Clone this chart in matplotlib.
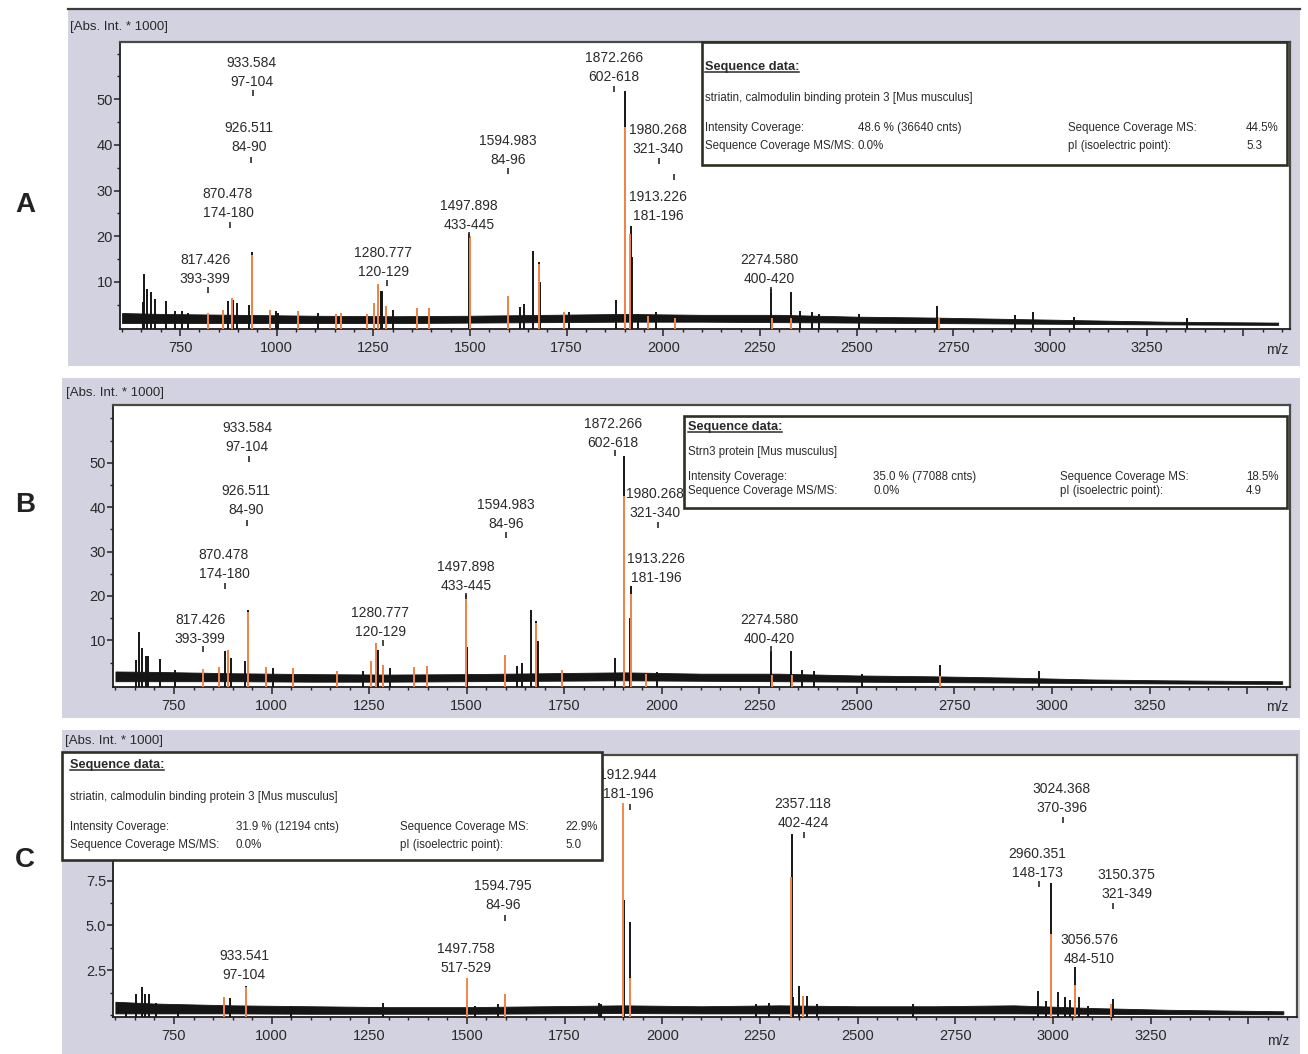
import matplotlib
matplotlib.use('Agg')
import matplotlib.pyplot as plt
import matplotlib.ticker as mticker
from matplotlib.patches import Rectangle
from matplotlib.lines import Line2D
import numpy as np

plt.rcParams['font.family'] = ['Liberation Sans', 'DejaVu Sans']

# ---------------- data ----------------
# noise band of the spectrum (m/z grid, upper and lower edge of the band)
base_mz = [600, 700, 900, 1100, 1300, 1500, 1700, 1900, 2100, 2300, 2500, 2700, 2900, 3100, 3300, 3590]
a_band_hi = [3.2, 3.0, 2.8, 2.6, 2.5, 2.6, 2.8, 3.0, 2.8, 2.8, 2.4, 2.2, 1.9, 1.6, 1.3, 1.1]
a_band_lo = [1.0, 1.0, 1.0, 1.0, 1.0, 1.1, 1.2, 1.3, 1.3, 1.2, 1.1, 1.0, 0.9, 0.8, 0.7, 0.6]
b_band_hi = [3.0, 2.9, 2.6, 2.4, 2.3, 2.4, 2.6, 2.8, 2.5, 2.5, 2.1, 1.9, 1.6, 1.2, 1.0, 0.8]
b_band_lo = [0.8, 0.8, 0.8, 0.7, 0.7, 0.8, 0.9, 1.0, 0.9, 0.8, 0.7, 0.6, 0.5, 0.4, 0.3, 0.2]
c_band_hi = [0.75, 0.65, 0.55, 0.5, 0.45, 0.45, 0.5, 0.55, 0.5, 0.55, 0.5, 0.5, 0.55, 0.4, 0.3, 0.22]
c_band_lo = [0.1, 0.1, 0.1, 0.08, 0.08, 0.08, 0.1, 0.12, 0.1, 0.1, 0.1, 0.1, 0.1, 0.08, 0.06, 0.05]

# panel A spectrum peaks
a_peak_mz = [653, 658, 665, 674, 685, 714, 737, 754, 771, 862, 875, 884, 888, 897, 929, 935,
             984, 998, 1004, 1054, 1108, 1153, 1166, 1233, 1252, 1263, 1269, 1272, 1284, 1302,
             1364, 1395, 1497, 1500, 1599, 1630, 1640, 1664, 1679, 1682, 1743, 1755, 1878,
             1900, 1916, 1919, 1935, 1982, 2030, 2278, 2329, 2354, 2384, 2402, 2506, 2707,
             2909, 2957, 3061, 3354]
a_peak_int = [5.6, 11.7, 8.5, 7.8, 6.3, 5.9, 3.7, 3.7, 3.3, 3.9, 5.9, 6.5, 6.0, 5.3, 5.0, 16.5,
              3.9, 3.7, 3.3, 3.7, 3.3, 3.0, 3.3, 3.0, 5.4, 9.6, 8.1, 8.1, 4.8, 3.9,
              4.2, 4.2, 20.5, 8.8, 7.0, 4.5, 5.2, 16.8, 14.4, 10.0, 3.5, 3.5, 6.1,
              51.7, 22.3, 15.5, 3.0, 3.5, 2.8, 8.5, 7.8, 3.7, 3.4, 3.0, 3.0, 4.8,
              2.8, 3.5, 2.4, 2.1]
# panel A matched peaks (orange)
a_match_mz = [822, 862, 884, 935, 984, 1054, 1153, 1166, 1233, 1252, 1263, 1284, 1364, 1395,
              1499, 1599, 1679, 1743, 1902, 1914, 1960, 2030, 2280, 2330, 2712]
a_match_int = [3.3, 3.9, 6.5, 16.0, 3.9, 3.7, 3.0, 3.3, 3.0, 5.4, 9.6, 4.8, 4.2, 4.2,
               20.0, 7.0, 14.0, 3.5, 44.0, 20.5, 2.5, 2.0, 2.2, 2.2, 2.0]

# panel B spectrum peaks
b_peak_mz = [652, 660, 667, 677, 683, 714, 752, 866, 882, 889, 897, 932, 939, 986, 1004, 1054,
             1167, 1235, 1255, 1267, 1271, 1274, 1286, 1303, 1365, 1398, 1498, 1501, 1598,
             1630, 1641, 1664, 1679, 1682, 1745, 1880, 1902, 1918, 1921, 1988, 2280, 2332,
             2360, 2390, 2512, 2713, 2967]
b_peak_int = [5.6, 11.8, 8.3, 6.4, 6.4, 5.8, 3.4, 4.1, 7.5, 7.9, 6.0, 5.3, 16.9, 4.1, 3.8, 3.8,
              3.1, 3.1, 5.3, 9.4, 7.9, 7.9, 4.5, 3.8, 4.1, 4.2, 20.3, 8.6, 6.8,
              4.3, 4.9, 16.9, 14.3, 9.8, 3.4, 6.0, 51.5, 15.0, 22.2, 2.8, 7.5, 7.5,
              3.4, 3.0, 2.5, 4.5, 3.0]
b_match_mz = [825, 866, 889, 939, 986, 1054, 1167, 1255, 1267, 1286, 1365, 1398, 1498, 1598,
              1679, 1745, 1904, 1920, 1960, 2282, 2334, 2712]
b_match_int = [3.5, 4.1, 7.9, 16.4, 4.1, 3.8, 3.1, 5.3, 9.4, 4.5, 4.1, 4.2, 19.8, 6.8,
               13.8, 3.4, 42.5, 20.5, 2.4, 2.2, 2.2, 2.0]

# panel C spectrum peaks
c_peak_mz = [628, 653, 668, 677, 686, 705, 760, 878, 894, 934, 1050, 1286, 1501, 1521, 1580,
             1597, 1839, 1844, 1901, 1918, 2240, 2274, 2332, 2336, 2350, 2360, 2370, 2396,
             2643, 2963, 2982, 2996, 3012, 3030, 3043, 3057, 3067, 3091, 3155]
c_peak_int = [0.6, 1.16, 1.57, 1.16, 1.16, 0.7, 0.55, 1.0, 0.98, 1.62, 0.5, 0.7, 0.9, 0.5, 0.6,
              1.16, 0.7, 0.6, 6.4, 5.2, 0.6, 0.7, 10.1, 1.0, 1.65, 1.07, 1.07, 0.6,
              0.6, 1.35, 0.8, 7.35, 1.3, 1.0, 0.85, 2.7, 1.0, 0.5, 0.9]
c_match_mz = [878, 934, 1499, 1597, 1899, 1917, 2330, 2360, 2994, 3056, 3150]
c_match_int = [1.0, 1.55, 2.08, 1.16, 11.8, 2.1, 7.7, 1.07, 4.5, 1.7, 0.6]

# peak annotations: mass, sequence range, text position, small marker position
a_lab_mass = ['933.584', '926.511', '870.478', '817.426', '1280.777', '1497.898',
              '1594.983', '1872.266', '1980.268', '1913.226', '2274.580']
a_lab_range = ['97-104', '84-90', '174-180', '393-399', '120-129', '433-445',
               '84-96', '602-618', '321-340', '181-196', '400-420']
a_lab_x = [936, 928, 874, 815, 1275, 1497, 1598, 1872, 1986, 1986, 2273]
a_lab_y = [53.0, 38.6, 24.2, 9.8, 11.3, 21.6, 35.8, 53.9, 38.2, 23.5, 9.8]
a_tick_x = [940, 934, 879, 822, 1285, 1497, 1598, 1872, 1988, 2027, 2278]
a_tick_y = [51.3, 36.8, 22.5, 8.3, 9.8, 20.3, 34.2, 52.3, 36.5, 33.0, 8.3]

b_lab_mass = a_lab_mass
b_lab_range = a_lab_range
b_lab_x = [937, 934, 878, 817, 1278, 1498, 1601, 1875, 1983, 1985, 2275]
b_lab_y = [52.7, 38.4, 24.0, 9.5, 10.9, 21.3, 35.3, 53.6, 37.8, 23.1, 9.5]
b_tick_x = [942, 937, 881, 824, 1286, 1498, 1601, 1880, 1990, np.nan, 2280]
b_tick_y = [50.9, 36.4, 22.2, 8.0, 9.3, 20.0, 33.7, 52.2, 36.0, np.nan, 8.0]

c_lab_mass = ['1912.944', '2357.118', '3024.368', '2960.351', '3150.375', '3056.576',
              '1594.795', '1497.758', '933.541']
c_lab_range = ['181-196', '402-424', '370-396', '148-173', '321-349', '484-510',
               '84-96', '517-529', '97-104']
c_lab_x = [1912, 2360, 3023, 2961, 3189, 3094, 1592, 1497, 929]
c_lab_y = [12.1, 10.5, 11.3, 7.7, 6.55, 2.9, 5.9, 2.4, 2.0]
c_tick_x = [1917, 2362, 3027, 2964, 3153, np.nan, 1597, np.nan, np.nan]
c_tick_y = [11.6, 10.05, 10.9, 7.3, 6.1, np.nan, 5.4, np.nan, np.nan]

# sequence data boxes
field_names = ['Intensity Coverage:', 'Sequence Coverage MS/MS:',
               'Sequence Coverage MS:', 'pI (isoelectric point):']
a_protein = 'striatin, calmodulin binding protein 3 [Mus musculus]'
a_stats = ['48.6 % (36640 cnts)', '0.0%', '44.5%', '5.3']
b_protein = 'Strn3 protein [Mus musculus]'
b_stats = ['35.0 % (77088 cnts)', '0.0%', '18.5%', '4.9']
c_protein = 'striatin, calmodulin binding protein 3 [Mus musculus]'
c_stats = ['31.9 % (12194 cnts)', '0.0%', '22.9%', '5.0']

x_major = [750, 1000, 1250, 1500, 1750, 2000, 2250, 2500, 2750, 3000, 3250, 3500]
x_labels = ['750', '1000', '1250', '1500', '1750', '2000', '2250', '2500', '2750',
            '3000', '3250', '']

# ---------------- drawing ----------------
W, H = 1308, 1054
fig = plt.figure(figsize=(W / 100, H / 100), dpi=100)
fig.patch.set_facecolor('white')

GRAY = '#d2d2e1'
BLACK = '#151515'
ORANGE = '#f2874e'
TXT = '#2a2a2a'


def fx(px):
    return px / W


def fy(py):
    return 1 - py / H


def make_axes(ax_px, gray_px):
    x0, y0, x1, y1 = gray_px
    fig.add_artist(Rectangle((fx(x0), fy(y1)), (x1 - x0) / W, (y1 - y0) / H,
                             transform=fig.transFigure, facecolor=GRAY,
                             edgecolor='none', zorder=-2))
    l, t, r, b = ax_px
    ax = fig.add_axes([fx(l), fy(b), (r - l) / W, (b - t) / H])
    ax.set_facecolor('white')
    for s in ['left', 'bottom']:
        ax.spines[s].set_color('#1e1e1e')
        ax.spines[s].set_linewidth(1.3)
    for s in ['top', 'right']:
        ax.spines[s].set_color('#4a4a44')
        ax.spines[s].set_linewidth(1.6)
    return ax


def draw_spectrum(ax, xlim, ylim, band_hi, band_lo, pk_mz, pk_int, m_mz, m_int,
                  lab_mass, lab_range, lab_x, lab_y, tick_x, tick_y):
    ax.set_xlim(*xlim)
    ax.set_ylim(*ylim)
    ax.fill_between(base_mz, band_lo, band_hi, color=BLACK, lw=0.6, zorder=2)
    ax.vlines(pk_mz, ylim[0], pk_int, color=BLACK, lw=1.4, zorder=3)
    ax.vlines(m_mz, ylim[0], m_int, color=ORANGE, lw=1.4, zorder=4)
    for ms, rg, x, y in zip(lab_mass, lab_range, lab_x, lab_y):
        ax.text(x, y, ms + '\n' + rg, ha='center', va='baseline', fontsize=10,
                color=TXT, linespacing=1.45, zorder=6)
    ax.plot(tick_x, tick_y, linestyle='none', marker='|', ms=4, mew=1.2,
            color=TXT, zorder=6)
    ax.set_xticks(x_major)
    ax.set_xticklabels(x_labels)
    ax.xaxis.set_minor_locator(mticker.MultipleLocator(50))
    ax.tick_params(axis='x', which='major', direction='out', length=5, width=1.1,
                   pad=4, labelsize=10.5, labelcolor=TXT, color='#222')
    ax.tick_params(axis='x', which='minor', direction='out', length=2.5, width=1,
                   color='#222')
    ax.tick_params(axis='y', which='major', direction='out', length=4, width=1.1,
                   pad=1, labelsize=10.5, labelcolor=TXT, color='#222')
    ax.tick_params(axis='y', which='minor', direction='out', length=2, width=1,
                   color='#222')


titles = []


def draw_box(box_px, title_xy, prot_xy, cols, rows, protein, stats):
    x0, y0, x1, y1 = box_px
    fig.add_artist(Rectangle((fx(x0), fy(y1)), (x1 - x0) / W, (y1 - y0) / H,
                             transform=fig.transFigure, facecolor='white',
                             edgecolor='#2e3024', lw=1.9, zorder=5))
    t = fig.text(fx(title_xy[0]), fy(title_xy[1]), 'Sequence data:', fontsize=9.2,
                 fontweight='bold', color=TXT, ha='left', va='center', zorder=6)
    titles.append(t)
    fig.text(fx(prot_xy[0]), fy(prot_xy[1]), protein, fontsize=8.3, color=TXT,
             ha='left', va='center', zorder=6)
    table = [[field_names[0], stats[0], field_names[2], stats[2]],
             [field_names[1], stats[1], field_names[3], stats[3]]]
    for r, row in enumerate(table):
        for c, s in enumerate(row):
            fig.text(fx(cols[c]), fy(rows[r]), s, fontsize=8.3, color=TXT,
                     ha='left', va='center', zorder=6)


# panel A
axA = make_axes((120, 41.7, 1290, 329), (68, 8, 1300, 366))
draw_spectrum(axA, (594.8, 3620.7), (-0.3, 62.6), a_band_hi, a_band_lo,
              a_peak_mz, a_peak_int, a_match_mz, a_match_int,
              a_lab_mass, a_lab_range, a_lab_x, a_lab_y, a_tick_x, a_tick_y)
axA.set_yticks([10, 20, 30, 40, 50])
axA.yaxis.set_minor_locator(mticker.FixedLocator([5, 15, 25, 35, 45, 55, 60]))
fig.add_artist(Line2D([fx(68), fx(1300)], [fy(8.5), fy(8.5)], transform=fig.transFigure,
                      color='#3c3c3c', lw=1.6, zorder=-1))

# panel B
axB = make_axes((113, 405, 1290, 687), (62, 378, 1300, 718))
draw_spectrum(axB, (593.7, 3610), (-0.5, 63), b_band_hi, b_band_lo,
              b_peak_mz, b_peak_int, b_match_mz, b_match_int,
              b_lab_mass, b_lab_range, b_lab_x, b_lab_y, b_tick_x, b_tick_y)
axB.set_yticks([10, 20, 30, 40, 50])
axB.yaxis.set_minor_locator(mticker.FixedLocator([5, 15, 25, 35, 45, 55, 60]))

# panel C (ticks above 7.5 sit behind the sequence box)
axC = make_axes((113, 755, 1297, 1017), (62, 730, 1300, 1054))
draw_spectrum(axC, (593.9, 3625), (-0.1, 14.5), c_band_hi, c_band_lo,
              c_peak_mz, c_peak_int, c_match_mz, c_match_int,
              c_lab_mass, c_lab_range, c_lab_x, c_lab_y, c_tick_x, c_tick_y)
axC.set_yticks([2.5, 5.0, 7.5])
axC.yaxis.set_major_formatter(mticker.FormatStrFormatter('%.1f'))
axC.yaxis.set_minor_locator(mticker.MultipleLocator(1.25))

# axis captions
for (x, y) in [(70, 27), (66, 393), (65, 741)]:
    fig.text(fx(x), fy(y), '[Abs. Int. * 1000]', fontsize=9.5, color=TXT,
             ha='left', va='center', zorder=7)
for (x, y) in [(1277, 350), (1277, 707), (1278, 1041)]:
    fig.text(fx(x), fy(y), 'm/z', fontsize=10, color=TXT, ha='center', va='center')
for letter, y in [('A', 205), ('B', 505), ('C', 860)]:
    fig.text(fx(25), fy(y), letter, fontsize=20, fontweight='bold', color='#222',
             ha='center', va='center')

# sequence data boxes
draw_box((702, 42, 1287, 165), (705, 67), (705, 98), [705, 858, 1068, 1246], [128, 146],
         a_protein, a_stats)
draw_box((684, 416, 1287, 508), (688, 427), (688, 452), [688, 873, 1060, 1246], [477, 491],
         b_protein, b_stats)
draw_box((62, 752, 602, 860), (70, 765), (70, 797), [70, 236, 400, 565], [827, 845],
         c_protein, c_stats)

# underline the box titles
renderer = fig.canvas.get_renderer()
for t in titles:
    bb = t.get_window_extent(renderer)
    fig.add_artist(Line2D([bb.x0 / W, bb.x1 / W], [(bb.y0 + 1.5) / H] * 2,
                          transform=fig.transFigure, color=TXT, lw=1.1, zorder=6))

fig.savefig('out.png', dpi=100)
